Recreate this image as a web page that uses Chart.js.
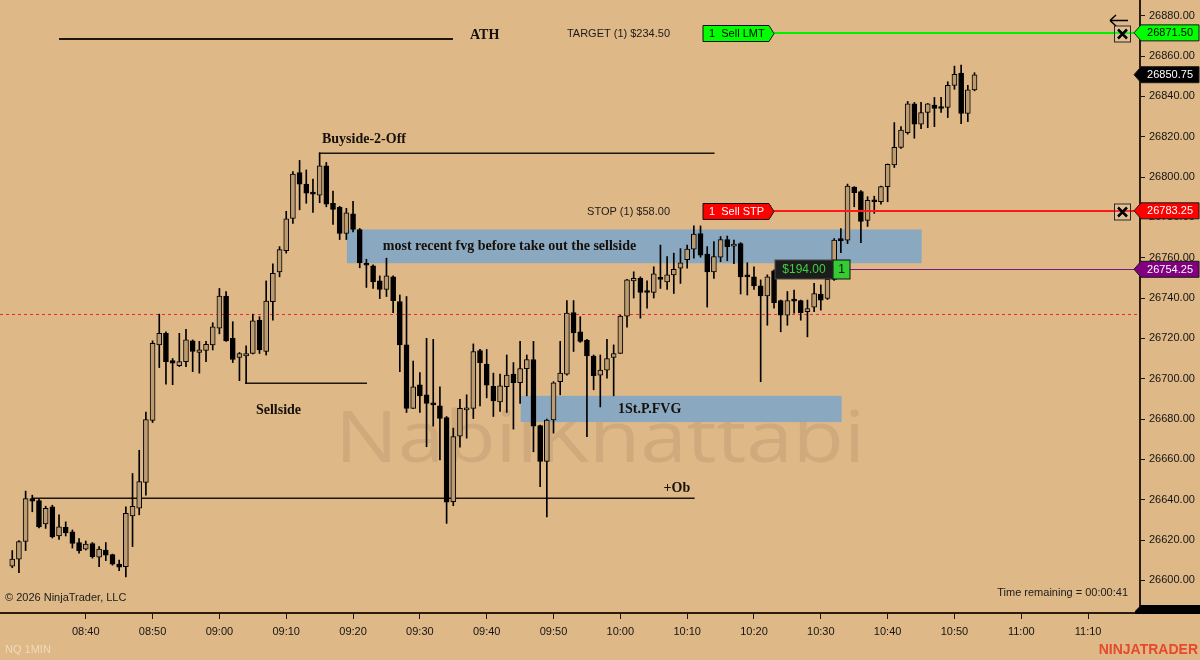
<!DOCTYPE html>
<html>
<head>
<meta charset="utf-8">
<title>NQ 1MIN</title>
<script src="https://cdn.jsdelivr.net/npm/chart.js@4.4.1/dist/chart.umd.min.js"></script>
<style>
  html, body { margin: 0; padding: 0; background: #deb887; }
  #wrap { width: 1200px; height: 660px; }
</style>
</head>
<body>
<div id="wrap"><canvas id="priceChart" width="1200" height="660"></canvas></div>
<script>
// 1 minute bars (bar close time)
const barTimes = [
  '08:29','08:30','08:31','08:32','08:33','08:34','08:35','08:36','08:37','08:38',
  '08:39','08:40','08:41','08:42','08:43','08:44','08:45','08:46','08:47','08:48',
  '08:49','08:50','08:51','08:52','08:53','08:54','08:55','08:56','08:57','08:58',
  '08:59','09:00','09:01','09:02','09:03','09:04','09:05','09:06','09:07','09:08',
  '09:09','09:10','09:11','09:12','09:13','09:14','09:15','09:16','09:17','09:18',
  '09:19','09:20','09:21','09:22','09:23','09:24','09:25','09:26','09:27','09:28',
  '09:29','09:30','09:31','09:32','09:33','09:34','09:35','09:36','09:37','09:38',
  '09:39','09:40','09:41','09:42','09:43','09:44','09:45','09:46','09:47','09:48',
  '09:49','09:50','09:51','09:52','09:53','09:54','09:55','09:56','09:57','09:58',
  '09:59','10:00','10:01','10:02','10:03','10:04','10:05','10:06','10:07','10:08',
  '10:09','10:10','10:11','10:12','10:13','10:14','10:15','10:16','10:17','10:18',
  '10:19','10:20','10:21','10:22','10:23','10:24','10:25','10:26','10:27','10:28',
  '10:29','10:30','10:31','10:32','10:33','10:34','10:35','10:36','10:37','10:38',
  '10:39','10:40','10:41','10:42','10:43','10:44','10:45','10:46','10:47','10:48',
  '10:49','10:50','10:51','10:52','10:53'
];

const opens = [
  26607, 26610.5, 26619.25, 26640.5, 26639.5, 26628, 26636.5, 26622, 26626.25, 26624,
  26618.75, 26615.5, 26618.25, 26611.5, 26615, 26612.75, 26608, 26606.75, 26632, 26635.75,
  26648.5, 26679.25, 26716.75, 26722.5, 26709, 26706.5, 26708.5, 26718.75, 26713, 26714,
  26716.75, 26725, 26741, 26720, 26710.5, 26711.25, 26712.5, 26729, 26713.5, 26738.25,
  26753, 26763.5, 26779.5, 26802.25, 26796.5, 26792.5, 26791, 26805.5, 26787, 26785,
  26772, 26781.75, 26774, 26757, 26756, 26748.5, 26744.25, 26750.5, 26738.25, 26716.75,
  26685.25, 26697, 26692, 26688, 26686.5, 26680.75, 26639, 26671.5, 26684.5, 26685.25,
  26714, 26707.25, 26696.25, 26688.5, 26696, 26702.25, 26698, 26705, 26709.5, 26676.75,
  26659, 26679.5, 26698.5, 26702.25, 26732.75, 26723.25, 26719, 26711.25, 26701.75, 26704.25,
  26710.5, 26712.5, 26731, 26748.5, 26749.75, 26743.75, 26742.75, 26749.75, 26748, 26751.5,
  26754.75, 26759, 26764.25, 26772, 26761.75, 26753, 26760.25, 26769, 26765.75, 26767,
  26751, 26750.5, 26746, 26741, 26753.5, 26738.75, 26731.5, 26739, 26738.75, 26733.25,
  26735.5, 26742, 26739.75, 26749.25, 26769, 26768.75, 26795, 26792.75, 26778.5, 26788.5,
  26787.75, 26795.25, 26806, 26814.75, 26822, 26836.25, 26826.25, 26832, 26835.75, 26835,
  26834.5, 26845.5, 26851.5, 26831.5, 26843.25
];

const highs = [
  26614.75, 26619.75, 26644.25, 26642.25, 26640.25, 26636.75, 26637.25, 26632.5, 26629, 26625,
  26620.75, 26619.5, 26618.75, 26616.75, 26618.75, 26613, 26610, 26636.5, 26653, 26664.5,
  26683.5, 26718.75, 26732, 26723.25, 26710, 26722.5, 26724.5, 26719.25, 26718.5, 26718.5,
  26727.75, 26744.75, 26743.25, 26728.25, 26713, 26716.25, 26732, 26730.75, 26748.5, 26757,
  26765.5, 26783, 26802.75, 26808.25, 26803.5, 26799, 26812, 26807.25, 26793, 26785.5,
  26784.5, 26788, 26774.5, 26759.25, 26756.5, 26751, 26759.75, 26751, 26741.5, 26740.75,
  26708.75, 26703, 26720, 26719.5, 26696, 26681.25, 26675.5, 26689.75, 26692, 26717.25,
  26714.5, 26714.5, 26702.75, 26702.25, 26711.75, 26708, 26718.5, 26711.75, 26718.5, 26677,
  26680, 26698.5, 26718.5, 26738.75, 26738.75, 26730.75, 26719.5, 26711.75, 26711.75, 26719.5,
  26716.75, 26731.5, 26749.25, 26753, 26750.5, 26748.5, 26755.5, 26766.25, 26760.5, 26762.25,
  26764.5, 26766.25, 26775.75, 26775.75, 26765.5, 26768, 26770.5, 26770.75, 26768.75, 26767.5,
  26757.5, 26755.5, 26749, 26751.5, 26754, 26739, 26743.25, 26744, 26739, 26739,
  26747.25, 26746.5, 26749.75, 26769.5, 26774.5, 26796.5, 26795.25, 26793.25, 26790.25, 26790.5,
  26795.5, 26806.5, 26827, 26825, 26837.5, 26837, 26837, 26836.5, 26839.5, 26839.5,
  26847.25, 26855, 26855.5, 26845.5, 26851.75
];

const lows = [
  26606.25, 26603.75, 26614.75, 26634, 26626, 26625.75, 26621, 26620.25, 26622, 26616,
  26613.5, 26615, 26611, 26606.75, 26609.75, 26607.5, 26604.75, 26601.75, 26616.75, 26632.5,
  26642.25, 26678.25, 26705.5, 26697.25, 26697, 26706, 26706, 26703.5, 26702.75, 26708.5,
  26714.25, 26722.25, 26718.5, 26708, 26699, 26697.75, 26712.25, 26712.5, 26711.75, 26729,
  26750.5, 26762.25, 26777, 26783.75, 26787, 26782.5, 26787.25, 26785.25, 26776.5, 26769,
  26769, 26772.75, 26755, 26745.25, 26744.75, 26739.75, 26740.75, 26732.75, 26703.5, 26683.25,
  26685.25, 26683.25, 26666.25, 26676.5, 26659.75, 26628.25, 26637, 26666, 26670.5, 26680.25,
  26686.5, 26690.5, 26681.25, 26683.75, 26683.25, 26675, 26687.75, 26691.5, 26663.75, 26646.5,
  26631.5, 26673, 26692, 26701.75, 26713.5, 26718, 26671.25, 26694.5, 26686, 26700.25,
  26691.5, 26712.5, 26725.5, 26740, 26730, 26735, 26740, 26744.75, 26744.25, 26742.25,
  26747.25, 26754.75, 26759.75, 26760.25, 26735.5, 26749.75, 26758, 26758.5, 26757, 26742,
  26741.5, 26744.25, 26698.5, 26726.5, 26735, 26723.25, 26726.5, 26732.5, 26729, 26720.75,
  26733.25, 26734, 26739.25, 26748.75, 26762.5, 26767, 26785.25, 26767.5, 26775.5, 26782,
  26786.5, 26787.75, 26804.75, 26814.25, 26821.25, 26819.25, 26824, 26824.5, 26825, 26832,
  26829.5, 26843.5, 26826.5, 26827.5, 26842.75
];

const closes = [
  26610.5, 26619.25, 26640.5, 26639.25, 26626.5, 26635.75, 26621.5, 26626.5, 26623.5, 26618.25,
  26614.75, 26618, 26611.75, 26615.5, 26612.5, 26608, 26606.5, 26633.25, 26636.75, 26649,
  26679.75, 26717.5, 26722.5, 26708.5, 26707.75, 26708.5, 26719.25, 26713.5, 26714.25, 26717,
  26725.75, 26741, 26718.75, 26709.5, 26712.5, 26712.5, 26728.75, 26714.25, 26738.5, 26752.25,
  26764, 26779.25, 26801.5, 26796.5, 26792, 26791.5, 26805.5, 26786.5, 26784, 26772,
  26782.25, 26774, 26757.5, 26756.25, 26748, 26744.25, 26751, 26738.75, 26716.75, 26685.25,
  26696, 26691.5, 26687.75, 26687, 26680.25, 26638.75, 26671.25, 26685.25, 26685.5, 26713.5,
  26708, 26696.75, 26689, 26696.5, 26701.75, 26698, 26705, 26709.5, 26676.5, 26659,
  26679.5, 26698, 26702.75, 26732.5, 26722.75, 26718.5, 26711.25, 26701.5, 26704.25, 26710,
  26712.5, 26731, 26749, 26749.75, 26742.75, 26742.75, 26752, 26749.25, 26751.5, 26754.25,
  26757.5, 26764.25, 26771.75, 26761.25, 26753, 26760.5, 26769, 26765.5, 26766.75, 26750.5,
  26750.5, 26746, 26741, 26750.5, 26737.75, 26731.5, 26738.75, 26738.5, 26732.75, 26734.75,
  26742.25, 26739, 26749.25, 26768.75, 26768.5, 26795.5, 26792.25, 26778, 26788.5, 26787.75,
  26795.25, 26806.25, 26814.75, 26823.25, 26836.25, 26826.25, 26832, 26836.25, 26834, 26834,
  26845.5, 26851, 26831.5, 26843.25, 26850.75
];

const timeTicks = ['08:40','08:50','09:00','09:10','09:20','09:30','09:40','09:50','10:00','10:10','10:20','10:30','10:40','10:50','11:00','11:10'];

// hand drawn levels
const markNames = ['ATH', 'Buyside-2-Off', 'Sellside', '+Ob'];
const markPrices = [26868.5, 26811.75, 26697.75, 26640.75];
const markStarts = ['08:36:00', '09:14:54', '09:03:50', '08:31:54'];
const markEnds = ['09:34:57', '10:14:06', '09:22:05', '10:11:07'];
const markTextTimes = ['09:37:30', '09:15:21', '09:05:28', '10:06:28'];
const markTextPrices = [26870.25, 26818.5, 26684.5, 26645.75];

// fair value gap boxes
const zoneNames = ['most recent fvg before take out the sellside', '1St.P.FVG'];
const zoneStarts = ['09:19:05', '09:45:05'];
const zoneEnds = ['10:45:06', '10:33:07'];
const zoneTops = [26774, 26691.5];
const zoneBottoms = [26757.25, 26678.5];
const zoneTextTimes = ['09:24:27', '09:59:39'];

const refLevel = 26732.25;

// chart trader
const orderTags = ['1  Sell LMT', '1  Sell STP'];
const orderNotes = ['TARGET (1) $234.50', 'STOP (1) $58.00'];
const orderPrices = [26871.5, 26783.25];
const entryPrice = 26754.25;
const openPnl = '$194.00';
const positionQty = '1';

const BG = '#deb887';
const UP_FILL = '#bc9b71';
const SANS = '"Liberation Sans", Arial, sans-serif';
const SERIF = '"Liberation Serif", "Times New Roman", serif';

function toMin(s) {
  const p = s.split(':').map(Number);
  return p[0] * 60 + p[1] + (p[2] || 0) / 60;
}

function fmtTime(v) {
  const h = Math.floor(v / 60);
  const m = Math.round(v - h * 60);
  return String(h).padStart(2, '0') + ':' + String(m).padStart(2, '0');
}

const wickData = barTimes.map((t, i) => ({ x: toMin(t), y: [lows[i], highs[i]] }));
const bodyData = barTimes.map((t, i) => ({ x: toMin(t), y: [opens[i], closes[i]] }));
const bodyColors = barTimes.map((t, i) => closes[i] >= opens[i] ? UP_FILL : '#000000');

// no extra padding around the plot, the axes sit right on the edges
function noPadding(scale) {
  scale.paddingTop = 0;
  scale.paddingBottom = 0;
  scale.paddingLeft = 0;
  scale.paddingRight = 0;
}

function drawFlag(ctx, x, y, fill, textColor, text) {
  ctx.beginPath();
  ctx.moveTo(x - 6, y);
  ctx.lineTo(x + 1, y - 8);
  ctx.lineTo(1199, y - 8);
  ctx.lineTo(1199, y + 8);
  ctx.lineTo(x + 1, y + 8);
  ctx.closePath();
  ctx.fillStyle = fill;
  ctx.fill();
  ctx.strokeStyle = '#1a1a1a';
  ctx.lineWidth = 1;
  ctx.stroke();
  ctx.fillStyle = textColor;
  ctx.font = '11px ' + SANS;
  ctx.textAlign = 'right';
  ctx.textBaseline = 'middle';
  ctx.fillText(text, 1193, y + 0.5);
}

function drawCloseBox(ctx, x, y) {
  ctx.fillStyle = 'rgba(255,255,255,0.12)';
  ctx.fillRect(x, y - 8, 16, 16);
  ctx.strokeStyle = '#2a2a2a';
  ctx.lineWidth = 1;
  ctx.strokeRect(x + 0.5, y - 7.5, 16, 16);
  ctx.beginPath();
  ctx.moveTo(x + 4, y - 4);
  ctx.lineTo(x + 13, y + 5);
  ctx.moveTo(x + 13, y - 4);
  ctx.lineTo(x + 4, y + 5);
  ctx.lineWidth = 2.5;
  ctx.strokeStyle = '#000';
  ctx.stroke();
}

const overlayPlugin = {
  id: 'overlay',
  beforeDraw(chart) {
    const ctx = chart.ctx;
    ctx.save();
    ctx.fillStyle = BG;
    ctx.fillRect(0, 0, chart.width, chart.height);
    ctx.restore();
  },
  beforeDatasetsDraw(chart) {
    const { ctx, chartArea: area, scales: { x, y } } = chart;
    ctx.save();

    // watermark
    ctx.font = '400 72px "Open Sans", Lato, sans-serif';
    const w = ctx.measureText('NabilKhattabi').width;
    ctx.translate(600, 462);
    ctx.scale(530 / w, 1);
    ctx.fillStyle = 'rgba(120,95,70,0.15)';
    ctx.textAlign = 'center';
    ctx.textBaseline = 'alphabetic';
    ctx.fillText('NabilKhattabi', 0, 0);
    ctx.setTransform(1, 0, 0, 1, 0, 0);

    // fvg boxes
    ctx.fillStyle = '#8aa8c0';
    zoneNames.forEach((n, i) => {
      const x0 = x.getPixelForValue(toMin(zoneStarts[i]));
      const x1 = x.getPixelForValue(toMin(zoneEnds[i]));
      const y0 = y.getPixelForValue(zoneTops[i]);
      const y1 = y.getPixelForValue(zoneBottoms[i]);
      ctx.fillRect(x0, y0, x1 - x0, y1 - y0);
    });

    // reference level
    ctx.beginPath();
    const yr = Math.round(y.getPixelForValue(refLevel)) + 0.5;
    ctx.moveTo(area.left, yr);
    ctx.lineTo(area.right, yr);
    ctx.setLineDash([3, 3]);
    ctx.strokeStyle = '#f0203c';
    ctx.lineWidth = 1;
    ctx.stroke();
    ctx.setLineDash([]);

    // drawn lines
    ctx.strokeStyle = '#1e150c';
    markNames.forEach((n, i) => {
      const yy = y.getPixelForValue(markPrices[i]);
      ctx.beginPath();
      ctx.moveTo(x.getPixelForValue(toMin(markStarts[i])), yy);
      ctx.lineTo(x.getPixelForValue(toMin(markEnds[i])), yy);
      ctx.lineWidth = i === 0 ? 2 : 1.5;
      ctx.stroke();
    });
    ctx.restore();
  },
  afterDatasetsDraw(chart) {
    const { ctx, scales: { x, y } } = chart;
    ctx.save();
    ctx.fillStyle = '#16100a';
    ctx.font = 'bold 14px ' + SERIF;
    ctx.textAlign = 'left';
    ctx.textBaseline = 'middle';
    markNames.forEach((n, i) => {
      ctx.fillText(n, x.getPixelForValue(toMin(markTextTimes[i])), y.getPixelForValue(markTextPrices[i]));
    });
    zoneNames.forEach((n, i) => {
      const mid = (zoneTops[i] + zoneBottoms[i]) / 2;
      ctx.fillText(n, x.getPixelForValue(toMin(zoneTextTimes[i])), y.getPixelForValue(mid));
    });
    ctx.restore();
  },
  afterDraw(chart) {
    const { ctx, chartArea: area, scales: { y } } = chart;
    const right = area.right;
    ctx.save();

    // order lines and tags
    const tagFill = ['#00ff00', '#ff0000'];
    const tagText = ['#000000', '#ffffff'];
    const lineColor = ['#00f000', '#ff1a1a'];
    orderPrices.forEach((p, i) => {
      const yy = Math.round(y.getPixelForValue(p)) + 0.5;
      ctx.beginPath();
      ctx.moveTo(right - 366, yy - 0.5);
      ctx.lineTo(right, yy - 0.5);
      ctx.strokeStyle = lineColor[i];
      ctx.lineWidth = 2;
      ctx.stroke();

      const bx = right - 437;
      ctx.beginPath();
      ctx.moveTo(bx, yy - 8);
      ctx.lineTo(bx + 66, yy - 8);
      ctx.lineTo(bx + 71, yy);
      ctx.lineTo(bx + 66, yy + 8);
      ctx.lineTo(bx, yy + 8);
      ctx.closePath();
      ctx.fillStyle = tagFill[i];
      ctx.fill();
      ctx.strokeStyle = '#111';
      ctx.lineWidth = 1;
      ctx.stroke();
      ctx.fillStyle = tagText[i];
      ctx.font = '11px ' + SANS;
      ctx.textAlign = 'left';
      ctx.textBaseline = 'middle';
      ctx.fillText(orderTags[i], bx + 6, yy + 0.5);

      ctx.fillStyle = '#1b1b1b';
      ctx.textAlign = 'right';
      ctx.fillText(orderNotes[i], right - 470, yy);

      drawCloseBox(ctx, right - 26, yy);
    });

    // back arrow above the target close box
    ctx.beginPath();
    ctx.moveTo(1110, 20.5);
    ctx.lineTo(1128, 20.5);
    ctx.moveTo(1110, 20.5);
    ctx.lineTo(1116, 15);
    ctx.moveTo(1110, 20.5);
    ctx.lineTo(1116, 26);
    ctx.strokeStyle = '#000';
    ctx.lineWidth = 1.5;
    ctx.stroke();

    // position line
    const ye = Math.round(y.getPixelForValue(entryPrice)) + 0.5;
    ctx.beginPath();
    ctx.moveTo(right - 290, ye);
    ctx.lineTo(right, ye);
    ctx.strokeStyle = '#7a1778';
    ctx.lineWidth = 1;
    ctx.stroke();
    ctx.fillStyle = '#1c1c1c';
    ctx.fillRect(right - 365, ye - 9.5, 58, 19);
    ctx.strokeStyle = '#4a4a4a';
    ctx.strokeRect(right - 365, ye - 9.5, 58, 19);
    ctx.fillStyle = '#3cd23c';
    ctx.font = '12px ' + SANS;
    ctx.textAlign = 'center';
    ctx.textBaseline = 'middle';
    ctx.fillText(openPnl, right - 336, ye + 0.5);
    ctx.fillStyle = '#33cc33';
    ctx.fillRect(right - 307, ye - 9.5, 17, 19);
    ctx.strokeStyle = '#111';
    ctx.strokeRect(right - 307, ye - 9.5, 17, 19);
    ctx.fillStyle = '#111';
    ctx.fillText(positionQty, right - 298.5, ye + 0.5);

    // right axis flags
    drawFlag(ctx, right, y.getPixelForValue(orderPrices[0]), '#00ff00', '#000000', orderPrices[0].toFixed(2));
    drawFlag(ctx, right, y.getPixelForValue(closes[closes.length - 1]), '#000000', '#ffffff', closes[closes.length - 1].toFixed(2));
    drawFlag(ctx, right, y.getPixelForValue(orderPrices[1]), '#ff0000', '#ffffff', orderPrices[1].toFixed(2));
    drawFlag(ctx, right, y.getPixelForValue(entryPrice), '#800080', '#ffffff', entryPrice.toFixed(2));

    // clipped flag at the bottom of the price axis
    ctx.beginPath();
    ctx.moveTo(right - 5, area.bottom - 2);
    ctx.lineTo(right + 1, area.bottom - 8);
    ctx.lineTo(1200, area.bottom - 8);
    ctx.lineTo(1200, area.bottom + 1);
    ctx.lineTo(right - 5, area.bottom + 1);
    ctx.closePath();
    ctx.fillStyle = '#000';
    ctx.fill();

    // footer texts
    ctx.font = '11px ' + SANS;
    ctx.textBaseline = 'middle';
    ctx.textAlign = 'left';
    ctx.fillStyle = '#1b1b1b';
    ctx.fillText('\u00a9 2026 NinjaTrader, LLC', 5, 598);
    ctx.textAlign = 'right';
    ctx.fillText('Time remaining = 00:00:41', 1128, 593);
    ctx.textAlign = 'left';
    ctx.fillStyle = 'rgba(255,245,230,0.55)';
    ctx.fillText('NQ 1MIN', 5, 650);
    ctx.textAlign = 'right';
    ctx.fillStyle = '#e8492b';
    ctx.font = 'bold 14px ' + SANS;
    ctx.fillText('NINJATRADER', 1198, 650);
    ctx.restore();
  }
};

new Chart(document.getElementById('priceChart'), {
  type: 'bar',
  data: {
    datasets: [
      {
        label: 'Body',
        data: bodyData,
        backgroundColor: bodyColors,
        borderColor: '#000000',
        borderWidth: 1,
        borderSkipped: false,
        barThickness: 5,
        minBarLength: 2,
        grouped: false,
        order: 0
      },
      {
        label: 'Wick',
        data: wickData,
        backgroundColor: '#000000',
        borderWidth: 0,
        barThickness: 1,
        grouped: false,
        order: 1
      }
    ]
  },
  options: {
    responsive: false,
    devicePixelRatio: 1,
    animation: false,
    events: [],
    layout: { padding: 0 },
    plugins: {
      legend: { display: false },
      tooltip: { enabled: false }
    },
    scales: {
      x: {
        type: 'linear',
        offset: false,
        min: toMin('08:27:10'),
        max: toMin('11:17:46'),
        afterBuildTicks: (scale) => {
          scale.ticks = timeTicks.map(t => ({ value: toMin(t) }));
        },
        afterFit: (scale) => { scale.height = 47; noPadding(scale); },
        ticks: {
          autoSkip: false,
          maxRotation: 0,
          padding: 6,
          color: '#141414',
          font: { family: SANS, size: 11 },
          callback: (v) => fmtTime(v)
        },
        grid: { offset: false, drawOnChartArea: false, drawTicks: true, tickLength: 6, color: '#1e150c' },
        border: { display: true, color: '#2a1d10', width: 2 }
      },
      y: {
        type: 'linear',
        position: 'right',
        min: 26583.8,
        max: 26887.8,
        afterFit: (scale) => { scale.width = 60; noPadding(scale); },
        ticks: {
          stepSize: 20,
          includeBounds: false,
          padding: 4,
          color: '#141414',
          font: { family: SANS, size: 11 },
          callback: (v) => v.toFixed(2)
        },
        grid: { drawOnChartArea: false, drawTicks: true, tickLength: 5, color: '#1e150c' },
        border: { display: true, color: '#2a1d10', width: 2 }
      }
    }
  },
  plugins: [overlayPlugin]
});
</script>
</body>
</html>
